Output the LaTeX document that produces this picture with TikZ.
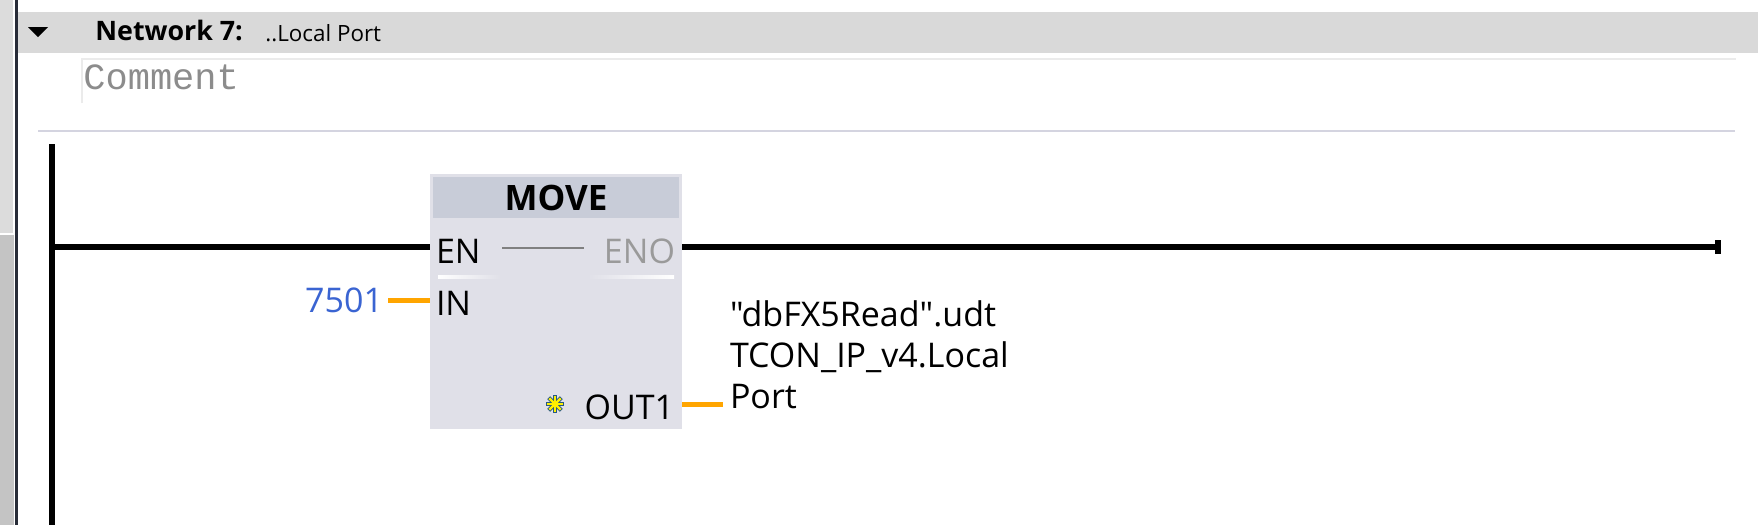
\documentclass[tikz,border=0pt]{standalone}
\usepackage{fontspec}
\setmainfont{Open Sans}
\newfontfamily\osplain{Open Sans}
\newfontfamily\monofnt{Liberation Mono}
\definecolor{hdrgray}{RGB}{217,217,217}
\definecolor{panellight}{RGB}{220,220,220}
\definecolor{paneldark}{RGB}{196,196,196}
\definecolor{paneledge}{RGB}{40,44,56}
\definecolor{boxfill}{RGB}{224,224,232}
\definecolor{boxhdr}{RGB}{200,204,216}
\definecolor{wireorange}{RGB}{255,165,0}
\definecolor{constblue}{RGB}{58,100,210}
\definecolor{commentgray}{RGB}{140,140,140}
\definecolor{enogray}{RGB}{154,154,154}
\definecolor{sepline}{RGB}{212,212,224}
\definecolor{cmtline}{RGB}{235,235,235}
\definecolor{starblue}{RGB}{40,90,130}
\definecolor{staryellow}{RGB}{255,240,0}
\tikzset{
  lbl/.style={inner sep=0pt, outer sep=0pt, font=\fontsize{17pt}{20pt}\selectfont},
  rung/.style={line width=3pt, black},
  opwire/.style={line width=2.5pt, wireorange},
}
\begin{document}
\begin{tikzpicture}[x=0.5pt,y=-0.5pt]
\useasboundingbox (0,0) rectangle (1758,525);
\fill[white] (0,0) rectangle (1758,525);
% left panel
\fill[panellight] (0,0) rectangle (13,233);
\fill[paneldark] (0,235) rectangle (14,525);
\draw[white,line width=0.75pt] (13.8,0) -- (13.8,234) -- (0,234);
\fill[paneledge] (15,0) rectangle (18,525);
% header
\fill[hdrgray] (18,12) rectangle (1758,53);
\fill[black] (28,27) -- (48,27) -- (38,37) -- cycle;
\node[inner sep=0pt, anchor=base west, font=\fontsize{13.4pt}{16pt}\selectfont\bfseries] (nettitle) at (95,40) {Network 7:};
\node[inner sep=0pt, anchor=base west, font=\fontsize{11.2pt}{14pt}\selectfont] (netname) at (265,41) {..Local Port};
% comment
\draw[cmtline, line width=0.75pt] (82,103) -- (82,59) -- (1736,59);
\node[inner sep=0pt, anchor=base west, font=\fontsize{18.5pt}{22pt}\monofnt, text=commentgray] (comment) at (83,89) {Comment};
\draw[sepline, line width=1pt] (38,131) -- (1735,131);
% power rail
\coordinate (railtop) at (52,144);
\coordinate (railbot) at (52,525);
\draw[rung] (railtop) -- (railbot);
% MOVE box
\node[fill=boxfill, minimum width=126pt, minimum height=127.5pt, inner sep=0pt] (move) at (556,301.5) {};
\node[fill=boxhdr, minimum width=123pt, minimum height=20.5pt, inner sep=0pt, anchor=north,
      font=\fontsize{17.5pt}{20pt}\selectfont\bfseries] (movehdr) at ([yshift=-1.5pt]move.north) {MOVE};
\node[lbl, anchor=base west] (en) at (436,263) {EN};
\node[lbl, anchor=base east, text=enogray] (eno) at (675,263) {ENO};
\node[lbl, anchor=base west] (in) at (436,315) {IN};
\node[lbl, anchor=base east] (out) at (674,419) {OUT1};
\coordinate (enl) at (502,248);
\coordinate (enr) at (584,248);
\draw[gray, line width=0.75pt] (enl) -- (enr);
\shade[left color=white, right color=boxfill] (438,275) rectangle (500,278);
\shade[left color=boxfill, right color=white] (588,275) rectangle (674,278);
% asterisk
\foreach \a in {0,45,90,135} {
  \draw[starblue, line width=2pt] (555,404) ++(\a:9) -- ++(\a+180:18);
}
\foreach \a in {0,45,90,135} {
  \draw[staryellow, line width=1.2pt] (555,404) ++(\a:8) -- ++(\a+180:16);
}
\fill[staryellow] (555,404) circle (3);
% rung
\coordinate (enpin) at (move.west |- 0,247);
\coordinate (enopin) at (move.east |- 0,247);
\coordinate (rungend) at (1718,247);
\draw[rung] (52,247) -- (enpin);
\draw[rung] (enopin) -- (rungend);
\fill[black] (1715,240) rectangle (1721,254);
% input
\node[lbl, anchor=base east, text=constblue] (const) at (383,312) {7501};
\coordinate (inpin) at (move.west |- 0,300);
\draw[opwire] (388,300) -- (inpin);
% output
\coordinate (outpin) at (move.east |- 0,404);
\draw[opwire] (outpin) -- (723,404);
\node[lbl, anchor=base west, font=\fontsize{17pt}{20pt}\osplain] (o1) at (730,326) {"dbFX5Read".udt};
\node[lbl, anchor=base west] (o2) at (730,367) {TCON\_IP\_v4.Local};
\node[lbl, anchor=base west] (o3) at (730,408) {Port};
\end{tikzpicture}
\end{document}
